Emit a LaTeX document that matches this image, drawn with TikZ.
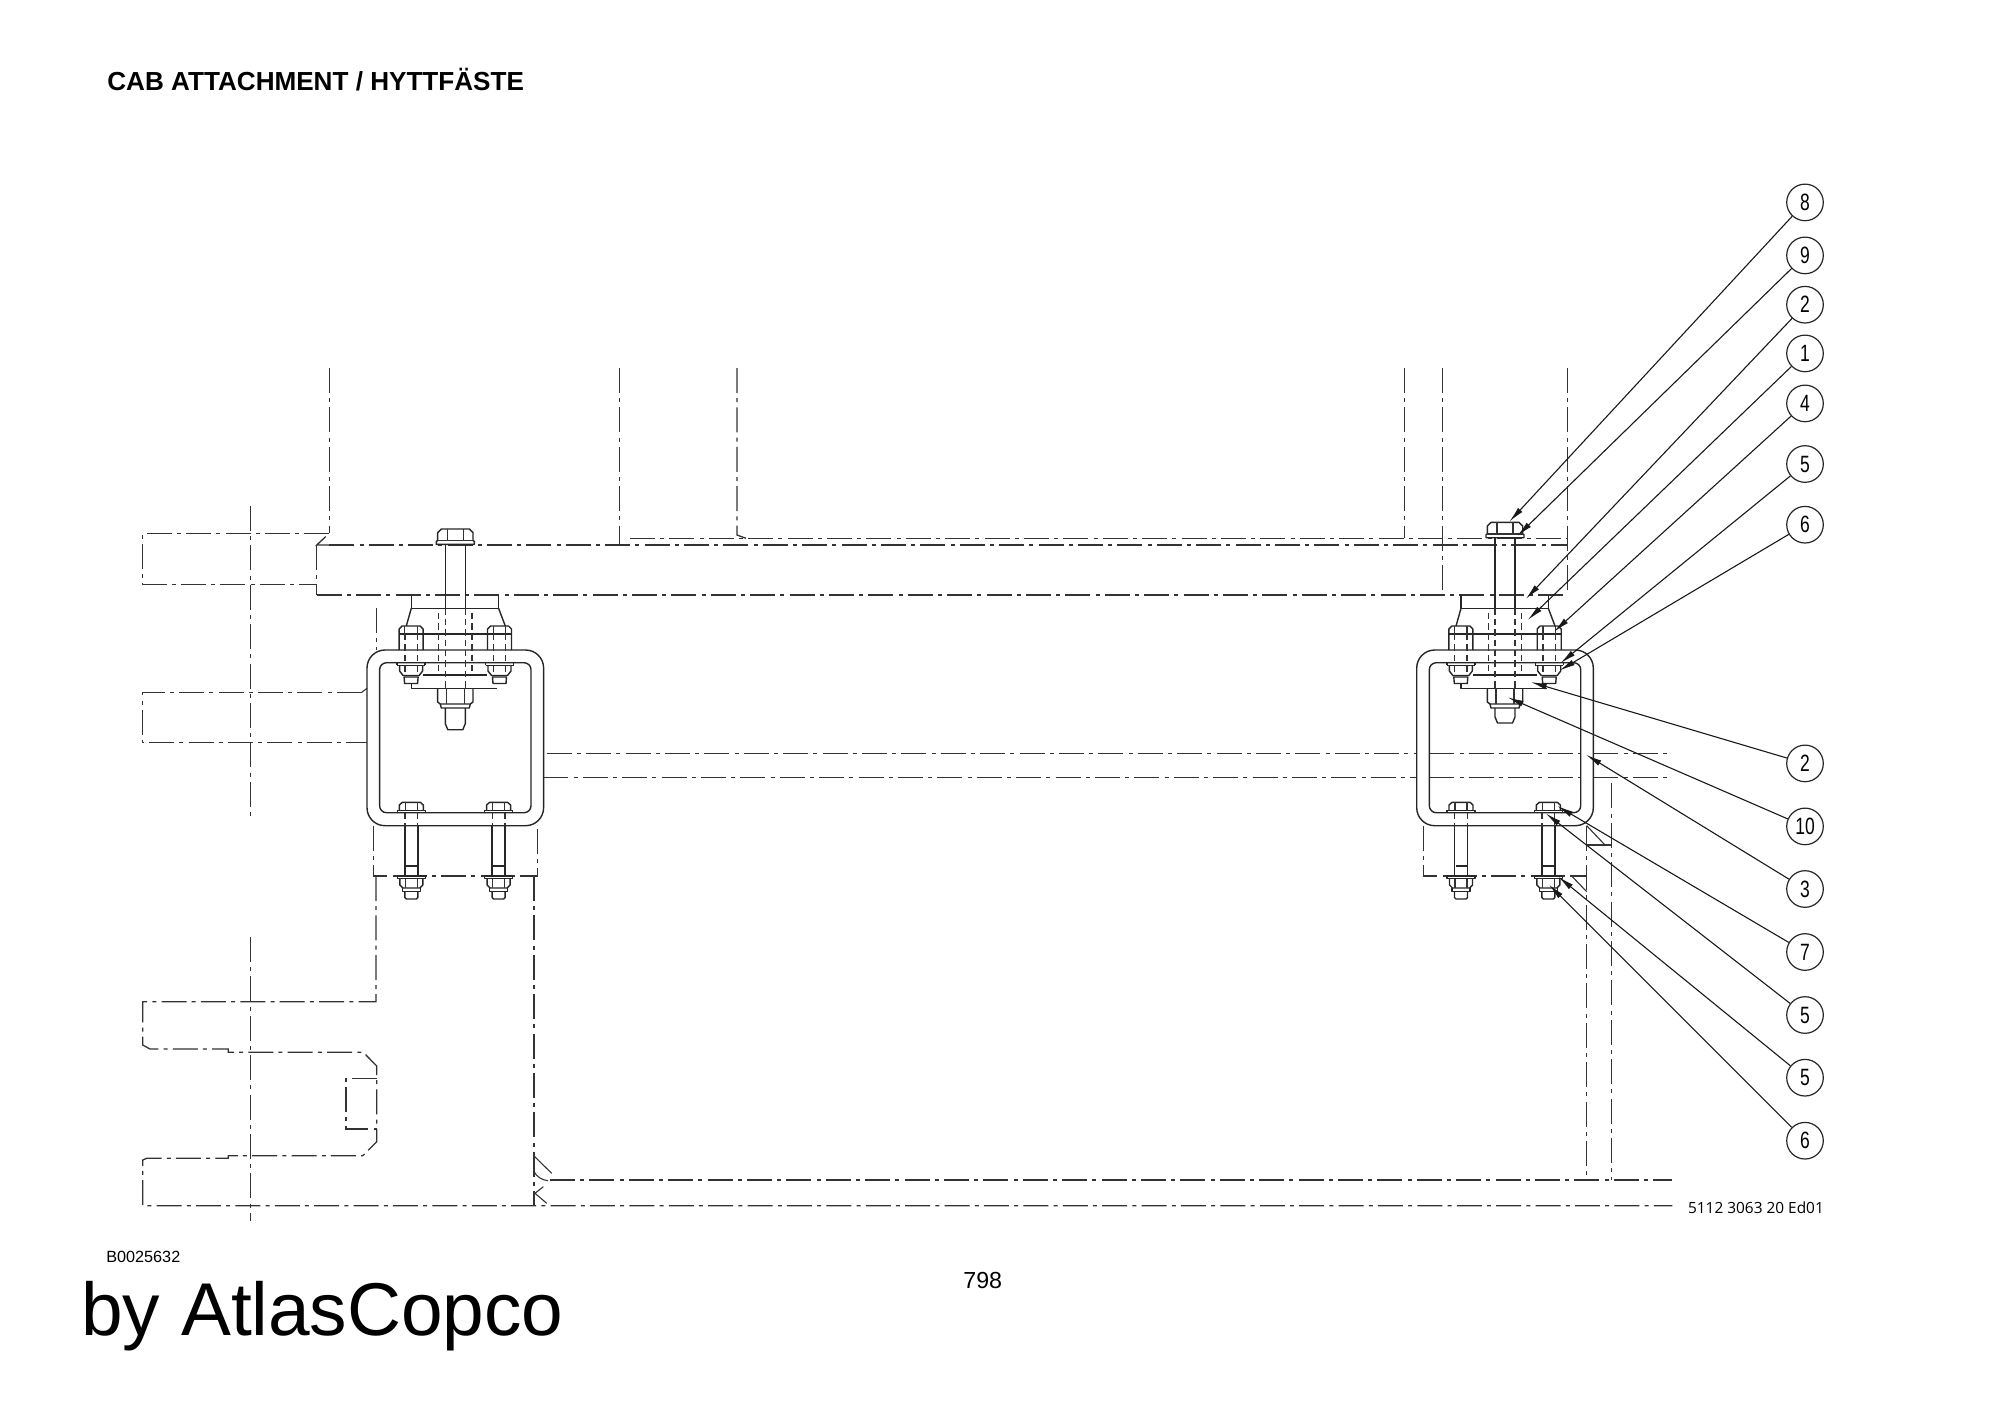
\documentclass[tikz,border=0pt]{standalone}
\usepackage{fontspec}
\setmainfont{Liberation Sans}
\newfontfamily\balloonfont[FakeStretch=0.74]{Liberation Sans}
\newfontfamily\codefont{Open Sans}
\usetikzlibrary{arrows.meta}
\tikzset{
  part/.style={draw=black!85,line width=0.7pt,line join=round},
  phantomline/.style={draw=black!80,line width=0.65pt,dash pattern=on 12.5pt off 2.6pt on 2pt off 2.6pt},
  thinsolid/.style={draw=black!80,line width=0.55pt},
  hidden/.style={draw=black!80,line width=0.6pt,dash pattern=on 3.2pt off 2pt},
  bubble/.style={circle,draw=black!85,line width=0.6pt,minimum size=18.3pt,inner sep=0pt,fill=none,font=\balloonfont\fontsize{11.8}{11.8}\selectfont},
  leader/.style={draw=black!90,line width=0.55pt,-{Latex[length=8pt,width=3pt]}},
  label/.style={inner sep=0pt,anchor=base west,text=black}
}
% small bolt: x offset, head y; a complete lower fastener
\newcommand{\lowerbolt}[1]{%
  \begin{scope}[shift={(#1,0)}]
    \draw[part] (-12,810)--(-12,805)--(-9,802.3)--(9,802.3)--(12,805)--(12,810);
    \draw[part] (-14,812.7)--(-14,810.3)--(14,810.3)--(14,812.7);
    \draw[thinsolid] (-6,802.3)--(-6,810) (6,802.3)--(6,810);
    \draw[hidden] (-6.3,812.7)--(-6.3,825.7) (6.3,812.7)--(6.3,825.7);
    \draw[part] (-6.5,825.7)--(-6.5,876) (6.5,825.7)--(6.5,876);
    \draw[part] (-5.5,866)--(5.5,866);
    \draw[part] (-14,876)--(14,876)--(14,878.7)--(-14,878.7)--cycle;
    \draw[part] (-11.5,878.7)--(-11.5,885)--(-8.5,888)--(8.5,888)--(11.5,885)--(11.5,878.7);
    \draw[thinsolid] (-6,878.7)--(-6,888) (6,878.7)--(6,888);
    \draw[part] (-9,888)--(-9,891.7)--(9,891.7)--(9,888);
    \draw[part] (-6.5,891.7)--(-6.5,897.5)--(-5,899)--(5,899)--(6.5,897.5)--(6.5,891.7);
  \end{scope}}
% small upper nut pair through the bracket top
\newcommand{\uppernut}[1]{%
  \begin{scope}[shift={(#1,0)}]
    \draw[part] (-12,650)--(-12,629)--(-9,626)--(9,626)--(12,629)--(12,650);
    \draw[thinsolid] (-6.2,626)--(-6.2,634) (6.2,626)--(6.2,634);
    \draw[hidden] (-6.2,634)--(-6.2,675) (6.2,634)--(6.2,675);
    \draw[part] (-14,665.3)--(-14,662.7) (14,662.7)--(14,665.3) (-14,665.3)--(14,665.3);
    \draw[part] (-11.5,665.3)--(-11.5,671)--(-8,675.5)--(8,675.5)--(11.5,671)--(11.5,665.3);
    \draw[part] (-7,677)--(-6.5,683.5)--(6.5,683.5)--(7,677)--cycle;
  \end{scope}}
% full mount: bolt centre x, vertical offset of the long bolt
\newcommand{\mountunit}[2]{%
  \begin{scope}[shift={(#1,0)}]
    % bracket
    \draw[part,rounded corners=9pt] (-88.3,738)--(-88.3,650)--(88.3,650)--(88.3,825.7)--(-88.3,825.7)--(-88.3,738);
    \draw[part,rounded corners=3.5pt] (-75.7,738)--(-75.7,662.7)--(75.7,662.7)--(75.7,812.7)--(-75.7,812.7)--(-75.7,738);
    % rubber mount
    \draw[part] (-44,595)--(-44,608.3)--(43.3,608.3)--(43.3,595);
    \draw[part] (-44,608.3)--(-49,626) (43.3,608.3)--(50,626);
    \draw[part] (-56,634)--(56,634);
    \draw[part] (-32,675)--(32,675);
    \draw[part] (-44,684)--(-44,688.3)--(42,688.3);
    \uppernut{-44.2}
    \uppernut{44.2}
    % long bolt
    \draw[part] (-19,{537.7+#2})--(-19,{534.5+#2})--(-17.7,{534+#2})--(-17.7,{526+#2})--(-14,{522.3+#2})--(14,{522.3+#2})--(17.7,{526+#2})--(17.7,{534+#2})--(19,{534.5+#2})--(19,{537.7+#2})--cycle;
    \draw[thinsolid] (-8,{522.3+#2})--(-8,{534+#2}) (8,{522.3+#2})--(8,{534+#2}) (-17.7,{534+#2})--(17.7,{534+#2});
    \draw[part] (-10,{537.7+#2})--(-10,608.3) (10,{537.7+#2})--(10,608.3);
    \draw[hidden] (-10,608.3)--(-10,688.3) (10,608.3)--(10,688.3);
    \draw[hidden] (-16.7,613)--(-16.7,675) (16.7,613)--(16.7,675);
    % centre nut and stud
    \draw[part] (-17.7,688.3)--(-17.7,702)--(-15,704)--(15,704)--(17.7,702)--(17.7,688.3);
    \draw[thinsolid] (-9,688.3)--(-9,704) (9,688.3)--(9,704);
    \draw[part] (-15,704)--(-14,708)--(14,708)--(15,704);
    \draw[part] (-10,708)--(-10,{717+#2})--(-7.5,{723+#2})--(7.5,{723+#2})--(10,{717+#2})--(10,708);
    % lower fasteners
    \lowerbolt{-44}
    \lowerbolt{43.3}
  \end{scope}}
\begin{document}
\begin{tikzpicture}[x=0.5pt,y=-0.5pt]
\useasboundingbox (0,0) rectangle (2000,1414);
% texts
\node[label,font=\bfseries\fontsize{13.05}{13.05}\selectfont] (title) at (107,90) {CAB ATTACHMENT / HYTTFÄSTE};
\node[label,font=\fontsize{8.1}{8.1}\selectfont] (docno) at (106,1262.5) {B0025632};
\node[label,font=\fontsize{11.6}{11.6}\selectfont] (page) at (963,1288.5) {798};
\node[label,font=\fontsize{37.4}{37.4}\selectfont] (brand) at (81,1335) {by AtlasCopco};
\node[label,font=\codefont\fontsize{7.7}{7.7}\selectfont] (partno) at (1687.7,1213.5) {5112 3063 20 Ed01};
% phantom surroundings
\draw[phantomline] (329.3,368)--(329.3,533.3);
\draw[phantomline] (619.7,368)--(619.7,545);
\draw[phantomline] (737,368)--(737,535)--(746,538.3);
\draw[phantomline] (1404.3,368)--(1404.3,538.3);
\draw[phantomline] (1442.3,368)--(1442.3,595);
\draw[phantomline] (1567.7,368)--(1567.7,595);
\draw[phantomline] (630,538.3)--(1567.7,538.3);
\draw[phantomline] (329.3,545)--(1567.7,545);
\draw[phantomline] (316.7,595)--(1567.7,595);
\draw[phantomline] (316.7,545)--(316.7,595);
\draw[phantomline] (329.3,545)--(316.7,545)--(329.3,533.3);
\draw[phantomline] (329.3,533.3)--(142.7,533.3)--(142.7,584.3)--(316.7,584.3);
\draw[phantomline] (250.7,506)--(250.7,821);
\draw[phantomline] (250.7,937)--(250.7,1221);
\draw[phantomline] (361.7,692.3)--(142.7,692.3)--(142.7,742.7)--(367,742.7);
\draw[thinsolid] (361.7,692.3)--(367,688.3);
\draw[phantomline] (376.7,608)--(376.7,650);
\draw[phantomline] (373.3,825.7)--(373.3,876)--(537.3,876)--(537.3,825.7);
\draw[phantomline] (376,876)--(376,1001.7)--(142.7,1001.7)--(142.7,1045)--(150,1049)--(228.3,1049)--(228.3,1052.3)--(363.3,1052.3)--(376.7,1066)--(376.7,1141.7)--(362.7,1155.7)--(228.3,1155.7)--(228.3,1158.3)--(146.7,1158.3)--(142.7,1160)--(142.7,1205.7)--(1672.3,1205.7);
\draw[phantomline] (376.7,1078.3)--(346,1078.3)--(346,1129)--(376.7,1129);
\draw[phantomline] (534,876)--(534,1205.7);
\draw[phantomline] (550,1180)--(1672.3,1180);
\draw[thinsolid] (534,1156)--(551.7,1173.3);
\draw[thinsolid] (534,1171.7) .. controls (537,1177) and (542,1180) .. (548,1180.7);
\draw[thinsolid] (543.3,1186.7)--(535,1193.3)--(546.7,1203.3);
% beam behind the right bracket
\draw[phantomline] (546.7,753.3)--(1416.7,753.3);
\draw[phantomline] (1429.3,753.3)--(1580.7,753.3);
\draw[phantomline] (1593.3,753.3)--(1672,753.3);
\draw[phantomline] (543.3,777.7)--(1416.7,777.7);
\draw[phantomline] (1429.3,777.7)--(1580.7,777.7);
\draw[phantomline] (1593.3,777.7)--(1670,777.7);
% right side structure
\draw[phantomline] (1423.3,825.7)--(1423.3,876)--(1586.7,876);
\draw[phantomline] (1586.7,825.7)--(1586.7,1180);
\draw[phantomline] (1611.7,783.3)--(1611.7,1180);
\draw[thinsolid] (1586.7,845)--(1611.7,845);
\draw[thinsolid] (1586.7,825.7)--(1605,845);
\draw[thinsolid] (1571.7,876)--(1586.7,891.7);
% mounts
\mountunit{455.3}{6.7}
\mountunit{1505}{0}
% balloons
\node[bubble] (b8) at (1805,202.4) {8};
\node[bubble] (b9) at (1805,255.4) {9};
\node[bubble] (b2a) at (1805,304.7) {2};
\node[bubble] (b1) at (1805,353.4) {1};
\node[bubble] (b4) at (1805,403.4) {4};
\node[bubble] (b5a) at (1805,464) {5};
\node[bubble] (b6a) at (1805,524.7) {6};
\node[bubble] (b2b) at (1805,763.4) {2};
\node[bubble] (b10) at (1805,826.4) {10};
\node[bubble] (b3) at (1805,889) {3};
\node[bubble] (b7) at (1805,952) {7};
\node[bubble] (b5b) at (1805,1015) {5};
\node[bubble] (b5c) at (1805,1077.7) {5};
\node[bubble] (b6b) at (1805,1140.7) {6};
% arrow tips
\coordinate (t8) at (1509.3,521.7);
\coordinate (t9) at (1517.3,536);
\coordinate (t2a) at (1525.7,599);
\coordinate (t1) at (1527.7,620);
\coordinate (t4) at (1554,631.7);
\coordinate (t5a) at (1560.3,663.3);
\coordinate (t6a) at (1559.3,670.7);
\coordinate (t2b) at (1530.7,682);
\coordinate (t10) at (1507.7,697.3);
\coordinate (t3) at (1586,754.7);
\coordinate (t7) at (1557.3,806);
\coordinate (t5b) at (1545.7,813.3);
\coordinate (t5c) at (1558.3,876.7);
\coordinate (t6b) at (1549,884.7);
\foreach \n in {8,9,2a,1,4,5a,6a,2b,10,3,7,5b,5c,6b}
  \draw[leader] (b\n)--(t\n);
\end{tikzpicture}
\end{document}
